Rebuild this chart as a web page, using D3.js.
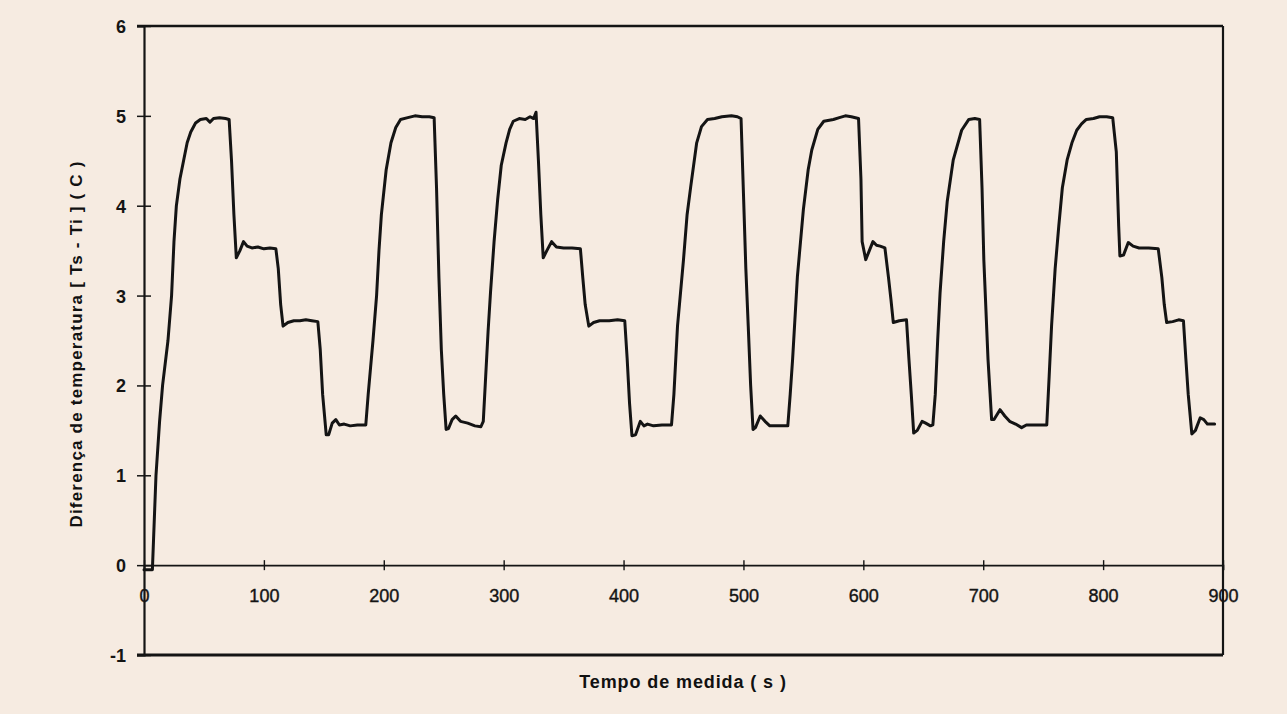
<!DOCTYPE html>
<html>
<head>
<meta charset="utf-8">
<script src="https://cdn.jsdelivr.net/npm/d3@7"></script>
<style>
  html, body { margin: 0; padding: 0; background: #f6ebe1; }
  svg { display: block; }
  text { font-family: "Liberation Sans", Arial, sans-serif; fill: #111; }
</style>
</head>
<body>
<svg id="chart" width="1287" height="714"></svg>
<script>
// Measurement time (s) and temperature difference Ts - Ti (C)
const times = [
  0, 7, 8, 10, 13, 15.5, 20, 23, 25, 27, 30, 33, 36, 39, 43, 47, 52, 55, 58, 63, 68, 71, 73, 75, 77,
  80, 83, 86, 90, 95, 100, 105, 110, 112, 114, 116, 120, 125, 130, 135, 140, 145, 147, 149, 152,
  154, 157, 160, 163, 167, 172, 178, 185, 187, 189, 191, 194, 196, 198, 202, 206, 210, 214, 220,
  226, 232, 238, 242, 244, 246, 248, 250, 252, 254, 257, 260, 264, 270, 276, 281, 283, 285, 287,
  289, 292, 295, 298, 302, 305, 308, 313, 318, 322, 325, 327, 329, 331, 333, 336, 340, 344, 350,
  357, 364, 366, 368, 371, 375, 380, 388, 395, 401, 403, 405, 407, 410, 414, 417, 420, 425, 432,
  440, 442, 445, 450, 453, 456, 461, 465, 470, 476, 482, 490, 495, 498, 500, 502, 504, 506, 508,
  510, 514, 518, 522, 530, 537, 539, 541, 545, 550, 554, 557, 562, 567, 575, 580, 585, 590, 596,
  598, 599, 602, 605, 608, 611, 614, 618, 621, 623, 625, 630, 636, 638, 640, 642, 645, 649, 652,
  656, 658, 660, 662, 664, 667, 670, 675, 682, 688, 693, 697, 699, 700.5, 704, 707, 709, 714, 718,
  722, 727, 732, 736, 745, 753, 755, 757, 760, 763, 766, 770, 774, 778, 782, 786, 792, 797, 803,
  808, 811, 813, 814, 817, 821, 825, 830, 838, 846, 849, 851, 853, 858, 863, 867, 869, 871, 874,
  877, 881, 884, 887, 893
];
const deltaT = [
  -0.05, -0.05, 0.3, 1.0, 1.6, 2.0, 2.5, 3.0, 3.6, 4.0, 4.3, 4.5, 4.7, 4.82, 4.92, 4.96, 4.97, 4.93, 4.97, 4.98, 4.97, 4.96, 4.5, 3.9, 3.42,
  3.5, 3.6, 3.55, 3.53, 3.54, 3.52, 3.53, 3.52, 3.3, 2.9, 2.66, 2.7, 2.72, 2.72, 2.73, 2.72, 2.71, 2.4, 1.9, 1.45,
  1.45, 1.58, 1.62, 1.56, 1.57, 1.55, 1.56, 1.56, 1.9, 2.2, 2.5, 3.0, 3.5, 3.9, 4.4, 4.7, 4.87, 4.96, 4.98,
  5.0, 4.99, 4.99, 4.98, 4.2, 3.2, 2.4, 1.9, 1.51, 1.52, 1.62, 1.66, 1.6, 1.58, 1.55, 1.54, 1.6, 2.1, 2.6,
  3.03, 3.6, 4.07, 4.45, 4.7, 4.85, 4.94, 4.97, 4.96, 4.99, 4.97, 5.04, 4.5, 3.9, 3.42, 3.5, 3.6, 3.54, 3.53,
  3.53, 3.52, 3.2, 2.9, 2.66, 2.7, 2.72, 2.72, 2.73, 2.72, 2.3, 1.8, 1.44, 1.45, 1.6, 1.55, 1.57, 1.55, 1.56,
  1.56, 1.9, 2.66, 3.4, 3.9, 4.21, 4.7, 4.88, 4.96, 4.97, 4.99, 5.0, 4.99, 4.97, 4.14, 3.3, 2.66, 2.0, 1.51,
  1.53, 1.66, 1.6, 1.55, 1.55, 1.55, 1.9, 2.29, 3.21, 3.96, 4.4, 4.62, 4.85, 4.94, 4.96, 4.98, 5.0, 4.99, 4.97,
  4.3, 3.6, 3.4, 3.5, 3.6, 3.56, 3.55, 3.53, 3.2, 2.96, 2.7, 2.72, 2.73, 2.3, 1.9, 1.47, 1.5, 1.6, 1.58,
  1.55, 1.56, 1.9, 2.5, 3.03, 3.6, 4.05, 4.51, 4.84, 4.96, 4.97, 4.96, 4.2, 3.4, 2.29, 1.62, 1.62, 1.73, 1.66,
  1.6, 1.57, 1.53, 1.56, 1.56, 1.56, 2.1, 2.66, 3.3, 3.77, 4.2, 4.51, 4.7, 4.84, 4.91, 4.96, 4.97, 4.99, 4.99,
  4.98, 4.6, 3.77, 3.44, 3.45, 3.59, 3.55, 3.53, 3.53, 3.52, 3.2, 2.9, 2.7, 2.71, 2.73, 2.72, 2.3, 1.9, 1.46,
  1.5, 1.64, 1.62, 1.57, 1.57
];
const xTickValues = [0, 100, 200, 300, 400, 500, 600, 700, 800, 900];
const yTickValues = [-1, 0, 1, 2, 3, 4, 5, 6];
const xTitle = "Tempo de medida ( s )";
const yTitle = "Diferença de temperatura [ Ts - Ti ] ( C )";

const svg = d3.select("#chart");
const ink = "#141414";

const x = d3.scaleLinear().domain([0, 900]).range([144, 1223]);
const y = d3.scaleLinear().domain([-1, 6]).range([655, 26]);

// plot frame: top and bottom borders, right border
svg.append("line").attr("x1", x(0) - 7).attr("x2", x(900)).attr("y1", y(6)).attr("y2", y(6))
  .attr("stroke", ink).attr("stroke-width", 2.5);
svg.append("line").attr("x1", x(0) - 7).attr("x2", x(900)).attr("y1", y(-1)).attr("y2", y(-1))
  .attr("stroke", ink).attr("stroke-width", 2.8);
svg.append("line").attr("x1", x(900)).attr("x2", x(900)).attr("y1", y(6)).attr("y2", y(-1))
  .attr("stroke", ink).attr("stroke-width", 2.2);

// y axis with ticks crossing the axis line
const yAxis = svg.append("g").attr("transform", `translate(${x(0)},0)`)
  .call(d3.axisLeft(y).tickValues(yTickValues).tickSize(7).tickFormat(d => String(d)));
yAxis.select(".domain").attr("stroke", ink).attr("stroke-width", 2.2);
yAxis.selectAll(".tick line").attr("x1", 7).attr("x2", -7).attr("stroke", ink).attr("stroke-width", 1.5);
yAxis.selectAll(".tick text").attr("x", -18).attr("dy", "0.36em")
  .style("font-size", "18px").style("font-weight", "bold").style("fill", ink);

// x axis drawn along y = 0
const xAxis = svg.append("g").attr("transform", `translate(0,${y(0)})`)
  .call(d3.axisBottom(x).tickValues(xTickValues).tickSize(5).tickFormat(d => String(d)));
xAxis.select(".domain").attr("stroke", ink).attr("stroke-width", 1.6);
xAxis.selectAll(".tick line").attr("y1", -5).attr("y2", 5).attr("stroke", ink).attr("stroke-width", 1.4);
xAxis.selectAll(".tick text").attr("y", 30).attr("dy", "0.36em")
  .style("font-size", "18px").style("fill", ink)
  .style("stroke", ink).style("stroke-width", 0.4);

// measured curve
const pts = times.map((t, i) => [t, deltaT[i]]);
svg.append("path").datum(pts)
  .attr("fill", "none").attr("stroke", ink).attr("stroke-width", 3)
  .attr("stroke-linejoin", "round").attr("stroke-linecap", "round")
  .attr("d", d3.line().x(d => x(d[0])).y(d => y(d[1])));

// axis titles
svg.append("text").attr("x", 683).attr("y", 682).attr("dy", "0.36em")
  .attr("text-anchor", "middle").style("font-size", "18px").style("font-weight", "bold")
  .style("letter-spacing", "0.9px").text(xTitle);
svg.append("text").attr("transform", "translate(76,344) rotate(-90)").attr("dy", "0.36em")
  .attr("text-anchor", "middle").style("font-size", "17px").style("font-weight", "bold")
  .style("letter-spacing", "1.2px").text(yTitle);
</script>
</body>
</html>
